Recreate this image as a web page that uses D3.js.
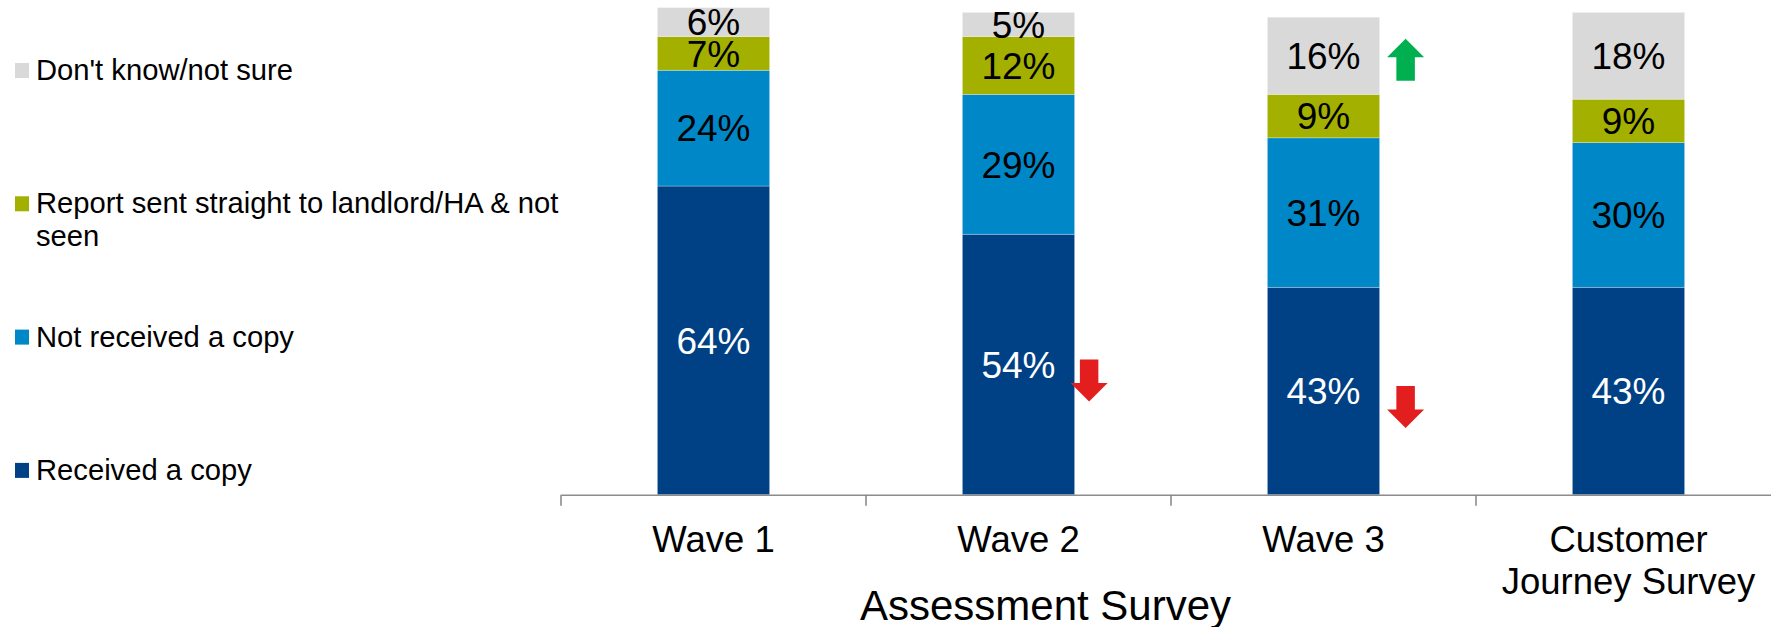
<!DOCTYPE html>
<html>
<head>
<meta charset="utf-8">
<script src="https://cdn.jsdelivr.net/npm/d3@7"></script>
<style>
  html, body { margin: 0; padding: 0; background: #fff; }
  svg { display: block; font-family: "Liberation Sans", Arial, Helvetica, sans-serif; }
</style>
</head>
<body>
<svg id="chart" width="1771" height="627"></svg>
<script>
// Survey waves along the x axis
const categories = ["Wave 1", "Wave 2", "Wave 3", "Customer Journey Survey"];
const tickLabels = [["Wave 1"], ["Wave 2"], ["Wave 3"], ["Customer", "Journey Survey"]];
const groupLabel = "Assessment Survey";
const groupMembers = ["Wave 1", "Wave 2", "Wave 3"];

// Stack order, bottom to top
const seriesNames = ["Received a copy", "Not received a copy",
  "Report sent straight to landlord/HA & not seen", "Don't know/not sure"];
const received       = [64, 54, 43, 43];
const notReceived    = [24, 29, 31, 30];
const sentToLandlord = [7, 12, 9, 9];
const dontKnow       = [6, 5, 16, 18];

// Significant changes against the previous wave
const changeArrows = [
  { category: "Wave 2", series: "Received a copy", dir: "down" },
  { category: "Wave 3", series: "Received a copy", dir: "down" },
  { category: "Wave 3", series: "Don't know/not sure", dir: "up" }
];

const colors = ["#004185", "#0087C7", "#A3B000", "#D9D9D9"];
const labelColors = ["#ffffff", "#000000", "#000000", "#000000"];

const svg = d3.select("#chart");
const seriesValues = [received, notReceived, sentToLandlord, dontKnow];

const rows = categories.map((c, i) => {
  const r = { category: c };
  seriesNames.forEach((s, j) => r[s] = seriesValues[j][i]);
  return r;
});
const stacked = d3.stack().keys(seriesNames)(rows);

const x = d3.scaleBand().domain(categories).range([561, 1781]).padding(0);
const y = d3.scaleLinear().domain([0, 100]).range([494.7, 12.4]);
const barW = x.bandwidth() * 0.368;
const barX = c => x(c) + (x.bandwidth() - barW) / 2;

// Bars
const layers = svg.append("g").selectAll("g").data(stacked).join("g")
  .attr("fill", (d, i) => colors[i]);
layers.selectAll("rect").data(d => d).join("rect")
  .attr("x", d => barX(d.data.category))
  .attr("y", d => y(d[1]))
  .attr("width", barW)
  .attr("height", d => y(d[0]) - y(d[1]))
  .attr("stroke", "#ffffff").attr("stroke-opacity", 0.35).attr("stroke-width", 0.8);

// Value labels
stacked.forEach((layer, i) => {
  svg.append("g").selectAll("text").data(layer).join("text")
    .attr("x", d => barX(d.data.category) + barW / 2)
    .attr("y", d => (y(d[0]) + y(d[1])) / 2)
    .attr("dy", "0.36em")
    .attr("text-anchor", "middle")
    .attr("font-size", 37)
    .attr("fill", labelColors[i])
    .text(d => (d[1] - d[0]) + "%");
});

// Axis
const axis = svg.append("g").attr("transform", `translate(0,${y(0)})`)
  .call(d3.axisBottom(x).tickSize(0).tickFormat(""));
axis.select(".domain").attr("stroke", "#8c8c8c").attr("stroke-width", 1.6);
const bounds = categories.map(c => x(c)).concat([x(categories[categories.length - 1]) + x.bandwidth()]);
axis.selectAll(".bound").data(bounds).join("line").attr("class", "bound")
  .attr("x1", d => d).attr("x2", d => d).attr("y1", 0).attr("y2", 11)
  .attr("stroke", "#8c8c8c").attr("stroke-width", 1.6);

// Category labels
const catG = svg.append("g").selectAll("text").data(categories).join("text")
  .attr("text-anchor", "middle")
  .attr("font-size", 36.5)
  .attr("fill", "#000");
catG.each(function (c, i) {
  d3.select(this).selectAll("tspan").data(tickLabels[i]).join("tspan")
    .attr("x", x(c) + x.bandwidth() / 2)
    .attr("y", (d, k) => 552 + k * 42)
    .text(d => d);
});

// Group label under the first three waves
const groupMid = d3.mean(groupMembers, c => x(c) + x.bandwidth() / 2);
svg.append("text")
  .attr("x", groupMid + 27).attr("y", 620)
  .attr("text-anchor", "middle").attr("font-size", 42)
  .attr("fill", "#000").text(groupLabel);

// Change arrows beside the bars
const arrowDx = { "Wave 2": 14.5, "Wave 3": 26 };
const arrowPath = d3.path();
(function () {
  const w = 37, h = 42, head = 18.5, shaft = 18.5;
  // pointing down, centred on origin
  arrowPath.moveTo(-shaft / 2, -h / 2);
  arrowPath.lineTo(shaft / 2, -h / 2);
  arrowPath.lineTo(shaft / 2, h / 2 - head);
  arrowPath.lineTo(w / 2, h / 2 - head);
  arrowPath.lineTo(0, h / 2);
  arrowPath.lineTo(-w / 2, h / 2 - head);
  arrowPath.lineTo(-shaft / 2, h / 2 - head);
  arrowPath.closePath();
})();
changeArrows.forEach(a => {
  const si = seriesNames.indexOf(a.series);
  const seg = stacked[si][categories.indexOf(a.category)];
  const cx = barX(a.category) + barW + (arrowDx[a.category] || 20);
  const cy = (y(seg[0]) + y(seg[1])) / 2 + (a.dir === "down" ? 16 : 4);
  svg.append("path")
    .attr("d", arrowPath.toString())
    .attr("transform", `translate(${cx},${cy})` + (a.dir === "up" ? " rotate(180)" : ""))
    .attr("fill", a.dir === "up" ? "#00B050" : "#E31E1E");
});

// Legend, top item first
const legendOrder = seriesNames.map((s, i) => i).reverse();
const legend = svg.append("g");
legendOrder.forEach((si, k) => {
  const baseY = 80 + k * 133.3;
  legend.append("rect")
    .attr("x", 15).attr("y", baseY - 17).attr("width", 14).attr("height", 15)
    .attr("fill", colors[si]);
  const t = legend.append("text")
    .attr("x", 36).attr("y", baseY)
    .attr("font-size", 29.2).attr("fill", "#000");
  // word wrap at a fixed width
  const words = seriesNames[si].split(" ");
  let line = [], lineNo = 0;
  let tspan = t.append("tspan").attr("x", 36).attr("y", baseY);
  words.forEach(w => {
    line.push(w);
    tspan.text(line.join(" "));
    if (tspan.node().getComputedTextLength() > 555 && line.length > 1) {
      line.pop();
      tspan.text(line.join(" "));
      line = [w];
      lineNo++;
      tspan = t.append("tspan").attr("x", 36).attr("y", baseY + lineNo * 33).text(w);
    }
  });
});
</script>
</body>
</html>
